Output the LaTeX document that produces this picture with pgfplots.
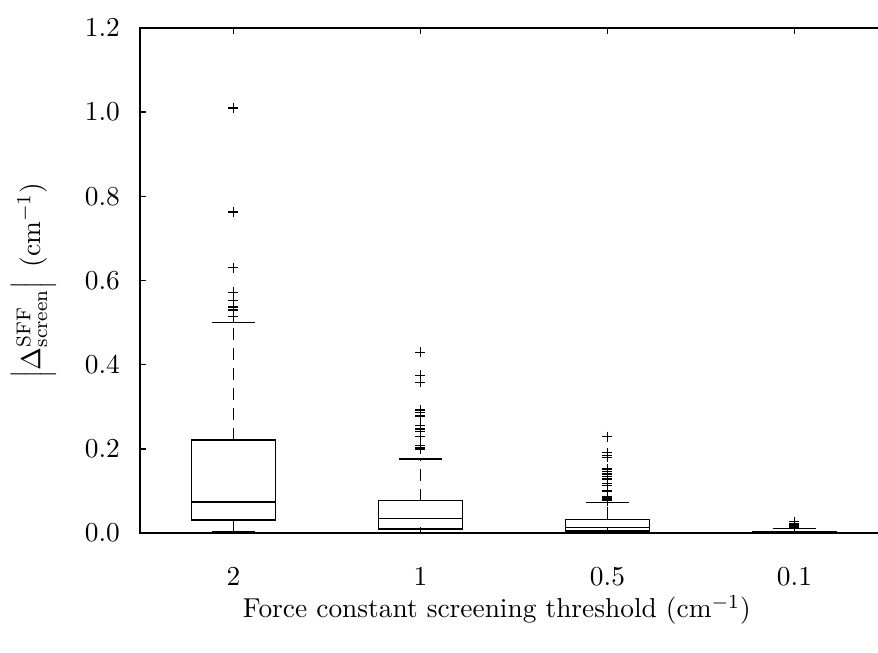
\documentclass[border=0pt,11pt]{standalone}
\usepackage{pgfplots}
\pgfplotsset{compat=1.18}
\usepgfplotslibrary{statistics}
\begin{document}
\begin{tikzpicture}
\pgfplotsset{
  boxplot/draw/upper whisker/.code={%
    \draw[dash pattern=on 4.8pt off 3.2pt]
      (boxplot box cs:\pgfplotsboxplotvalue{upper quartile},0.5) --
      (boxplot box cs:\pgfplotsboxplotvalue{upper whisker},0.5);
    \draw (boxplot whisker cs:\pgfplotsboxplotvalue{upper whisker},0) --
      (boxplot whisker cs:\pgfplotsboxplotvalue{upper whisker},1);
  },
  boxplot/draw/lower whisker/.code={%
    \draw[dash pattern=on 4.8pt off 3.2pt]
      (boxplot box cs:\pgfplotsboxplotvalue{lower quartile},0.5) --
      (boxplot box cs:\pgfplotsboxplotvalue{lower whisker},0.5);
    \draw (boxplot whisker cs:\pgfplotsboxplotvalue{lower whisker},0) --
      (boxplot whisker cs:\pgfplotsboxplotvalue{lower whisker},1);
  },
}
\begin{axis}[
  scale only axis,
  width=299.2pt, height=202pt,
  xmin=-0.5, xmax=3.5,
  ymin=0, ymax=1.2,
  xtick={0,1,2,3},
  xticklabels={2,1,0.5,0.1},
  ytick={0,0.2,0.4,0.6,0.8,1.0,1.2},
  yticklabel style={/pgf/number format/fixed, /pgf/number format/fixed zerofill, /pgf/number format/precision=1},
  xticklabel style={yshift=-10pt},
  yticklabel style={xshift=-4.2pt},
  tick align=inside,
  major tick length=2.4pt,
  axis line style={line width=0.6pt},
  every tick/.style={black, line width=0.6pt},
  xlabel={Force constant screening threshold (cm$^{-1}$)},
  ylabel={$\left|\Delta^{\mathrm{SFF}}_{\mathrm{screen}}\right|$\, (cm$^{-1}$)},
  xlabel style={at={(axis description cs:0.477,0)}, anchor=center, yshift=-30.8pt},
  ylabel style={at={(axis description cs:0,0.5)}, anchor=center, yshift=42.6pt},
  boxplot/draw direction=y,
  boxplot/box extend=0.45,
  boxplot/whisker extend=0.235,
  every axis plot/.append style={black, line width=0.6pt},
]
\addplot+[black, mark=+, mark size=2pt, mark options={black, solid, line width=0.5pt},
  boxplot prepared={draw position=0, lower whisker=0.002, lower quartile=0.031,
    median=0.074, upper quartile=0.221, upper whisker=0.4998}]
  table[row sep=\\, y index=0] {1.01\\0.763\\0.630\\0.572\\0.552\\0.538\\0.535\\0.530\\0.514\\};
\addplot+[black, mark=+, mark size=2pt, mark options={black, solid, line width=0.5pt},
  boxplot prepared={draw position=1, lower whisker=0.0005, lower quartile=0.0095,
    median=0.035, upper quartile=0.077, upper whisker=0.176}]
  table[row sep=\\, y index=0] {0.429\\0.375\\0.358\\0.292\\0.286\\0.278\\0.255\\0.247\\0.241\\0.229\\0.2075\\0.204\\0.1996\\};
\addplot+[black, mark=+, mark size=2pt, mark options={black, solid, line width=0.5pt},
  boxplot prepared={draw position=2, lower whisker=0.0002, lower quartile=0.005,
    median=0.0127, upper quartile=0.0325, upper whisker=0.072}]
  table[row sep=\\, y index=0] {0.229\\0.191\\0.185\\0.180\\0.152\\0.147\\0.140\\0.134\\0.128\\0.118\\0.112\\0.0998\\0.086\\0.083\\0.080\\0.077\\};
\addplot+[black, mark=+, mark size=2pt, mark options={black, solid, line width=0.5pt},
  boxplot prepared={draw position=3, lower whisker=0.0, lower quartile=0.0008,
    median=0.002, upper quartile=0.004, upper whisker=0.0105}]
  table[row sep=\\, y index=0] {0.027\\0.022\\0.020\\0.018\\0.016\\0.014\\};
\end{axis}
\pgfresetboundingbox
\path[use as bounding box] ([xshift=-56pt,yshift=-48pt]current axis.south west) rectangle ([xshift=295.2pt,yshift=213.2pt]current axis.south west);
\end{tikzpicture}
\end{document}
